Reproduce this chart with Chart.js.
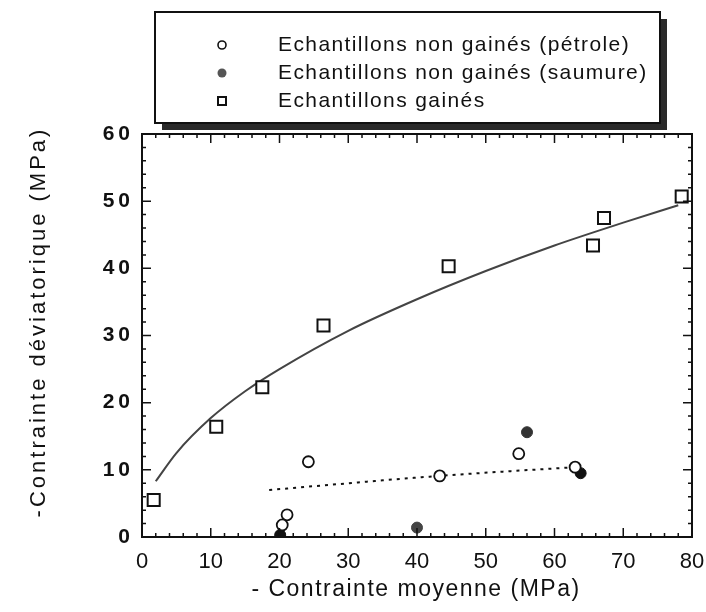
<!DOCTYPE html>
<html><head><meta charset="utf-8">
<script src="https://cdn.jsdelivr.net/npm/chart.js@4"></script>
<style>html,body{margin:0;padding:0;background:#fff}#wrap{width:706px;height:612px;position:relative}</style>
</head><body><div id="wrap"><canvas id="c" width="706" height="612"></canvas></div>
<script>
const xTicks = [0,10,20,30,40,50,60,70,80];
const yTicks = [0,10,20,30,40,50,60];
const labels = ['Echantillons non gainés (pétrole)','Echantillons non gainés (saumure)','Echantillons gainés'];
const xTitle = '- Contrainte moyenne (MPa)';
const yTitle = '-Contrainte déviatorique (MPa)';
const petroleX = [24.2,21.1,20.4,43.3,54.8,63.0];
const petroleY = [11.2,3.3,1.8,9.1,12.4,10.4];
const saumureX = [20.1,40.0,56.0,63.8];
const saumureY = [0.3,1.4,15.6,9.5];
const gainesX = [1.7,10.8,17.5,26.4,44.6,65.6,67.2,78.5];
const gainesY = [5.5,16.4,22.3,31.5,40.3,43.4,47.5,50.7];
const fitX = [2,5,10,15,20,30,40,50,60,70,78];
const fitY = [8.3,12.5,17.7,21.7,25,30.7,35.4,39.6,43.4,46.8,49.4];
const trendX = [18.5,43.3,63];
const trendY = [7.0,9.1,10.4];

const pts = (xs, ys) => xs.map((x,i) => ({x, y: ys[i]}));
const FONT = '"Liberation Sans", Arial, sans-serif';
const saumureColors = ['#111','#444','#333','#111'];

const framePlugin = {
  id: 'frame',
  afterLayout(chart) {
    const y = chart.scales.y;
    if (y && !y._spaced) {
      const orig = y.drawLabels.bind(y);
      y.drawLabels = function(area) {
        this.ctx.save();
        this.ctx.letterSpacing = '4px';
        orig(area);
        this.ctx.restore();
      };
      y._spaced = true;
    }
  },
  afterDatasetsDraw(chart) {
    const {ctx, chartArea: a, scales: {x, y}} = chart;
    ctx.save();
    ctx.strokeStyle = '#111';
    ctx.lineWidth = 2;
    ctx.strokeRect(a.left, a.top, a.right - a.left, a.bottom - a.top);
    ctx.lineWidth = 1.5;
    ctx.beginPath();
    for (let v = 0; v <= 80; v += 2) {
      const px = x.getPixelForValue(v);
      const len = v % 10 === 0 ? 9 : 4;
      ctx.moveTo(px, a.bottom); ctx.lineTo(px, a.bottom - len);
      ctx.moveTo(px, a.top); ctx.lineTo(px, a.top + len);
    }
    for (let v = 0; v <= 60; v += 2) {
      const py = y.getPixelForValue(v);
      const len = v % 10 === 0 ? 9 : 4;
      ctx.moveTo(a.left, py); ctx.lineTo(a.left + len, py);
      ctx.moveTo(a.right, py); ctx.lineTo(a.right - len, py);
    }
    ctx.stroke();
    // axis titles
    ctx.fillStyle = '#111';
    ctx.textAlign = 'center';
    ctx.textBaseline = 'middle';
    ctx.font = '23px ' + FONT;
    ctx.letterSpacing = '1.5px';
    ctx.fillText(xTitle, 416, 590);
    ctx.save();
    ctx.translate(39, 322);
    ctx.rotate(-Math.PI / 2);
    ctx.font = '22px ' + FONT;
    ctx.letterSpacing = '3px';
    ctx.fillText(yTitle, 0, 0);
    ctx.restore();
    ctx.restore();
  }
};

const legendPlugin = {
  id: 'boxLegend',
  afterDraw(chart) {
    const ctx = chart.ctx;
    const bx = 155, by = 12, bw = 505, bh = 111;
    ctx.save();
    ctx.fillStyle = '#2a2a2a';
    ctx.fillRect(bx + 7, by + 7, bw, bh);
    ctx.fillStyle = '#fff';
    ctx.fillRect(bx, by, bw, bh);
    ctx.strokeStyle = '#111';
    ctx.lineWidth = 2;
    ctx.strokeRect(bx, by, bw, bh);
    const rows = [45, 73, 101];
    const mx = 222, tx = 278;
    ctx.font = '21px ' + FONT;
    ctx.letterSpacing = '1.4px';
    ctx.textBaseline = 'middle';
    ctx.textAlign = 'left';
    ctx.fillStyle = '#111';
    chart.data.datasets.slice(0,3).forEach((ds, i) => {
      const yy = rows[i];
      ctx.lineWidth = 1.6;
      ctx.strokeStyle = '#111';
      if (i === 0) { ctx.beginPath(); ctx.arc(mx, yy, 4, 0, Math.PI*2); ctx.stroke(); }
      if (i === 1) { ctx.fillStyle = '#555'; ctx.beginPath(); ctx.arc(mx, yy, 4.5, 0, Math.PI*2); ctx.fill(); ctx.fillStyle = '#111'; }
      if (i === 2) { ctx.lineWidth = 2; ctx.strokeRect(mx - 4, yy - 4, 8, 8); }
      ctx.fillText(ds.label, tx, yy);
    });
    ctx.restore();
  }
};

new Chart(document.getElementById('c'), {
  type: 'scatter',
  data: {
    datasets: [
      { label: labels[0], data: pts(petroleX, petroleY), pointStyle: 'circle', pointRadius: 5.5,
        backgroundColor: '#fff', borderColor: '#111', borderWidth: 1.8, order: 1 },
      { label: labels[1], data: pts(saumureX, saumureY), pointStyle: 'circle', pointRadius: 5.5,
        backgroundColor: saumureColors, borderColor: saumureColors, borderWidth: 1, order: 1 },
      { label: labels[2], data: pts(gainesX, gainesY), pointStyle: 'rect', pointRadius: 8.5,
        backgroundColor: '#fff', borderColor: '#111', borderWidth: 2, order: 1 },
      { label: 'fit', data: pts(fitX, fitY), showLine: true, pointRadius: 0, borderColor: '#444',
        borderWidth: 2, cubicInterpolationMode: 'monotone', fill: false, order: 2 },
      { label: 'trend', data: pts(trendX, trendY), showLine: true, pointRadius: 0, borderColor: '#111',
        borderWidth: 2, borderDash: [3, 5], cubicInterpolationMode: 'monotone', fill: false, order: 2 }
    ]
  },
  options: {
    responsive: false,
    animation: false,
    devicePixelRatio: 1,
    layout: { padding: { top: 134, right: 14, left: 0, bottom: 0 } },
    plugins: { legend: { display: false }, tooltip: { enabled: false } },
    scales: {
      x: {
        type: 'linear', min: 0, max: 80,
        afterBuildTicks: s => { s.ticks = xTicks.map(v => ({value: v})); },
        afterFit: s => { s.height = 75; s.paddingLeft = 0; s.paddingRight = 0; },
        grid: { display: false, drawTicks: false }, border: { display: false },
        ticks: { color: '#111', font: { family: FONT, size: 22 }, padding: 12, maxRotation: 0 },
        title: { display: false }
      },
      y: {
        type: 'linear', min: 0, max: 60,
        afterBuildTicks: s => { s.ticks = yTicks.map(v => ({value: v})); },
        afterFit: s => { s.width = 142; s.paddingTop = 0; s.paddingBottom = 0; },
        grid: { display: false, drawTicks: false }, border: { display: false },
        ticks: { color: '#111', font: { family: FONT, size: 21, weight: 'bold' }, padding: 8 },
        title: { display: false }
      }
    }
  },
  plugins: [framePlugin, legendPlugin]
});
</script></body></html>
